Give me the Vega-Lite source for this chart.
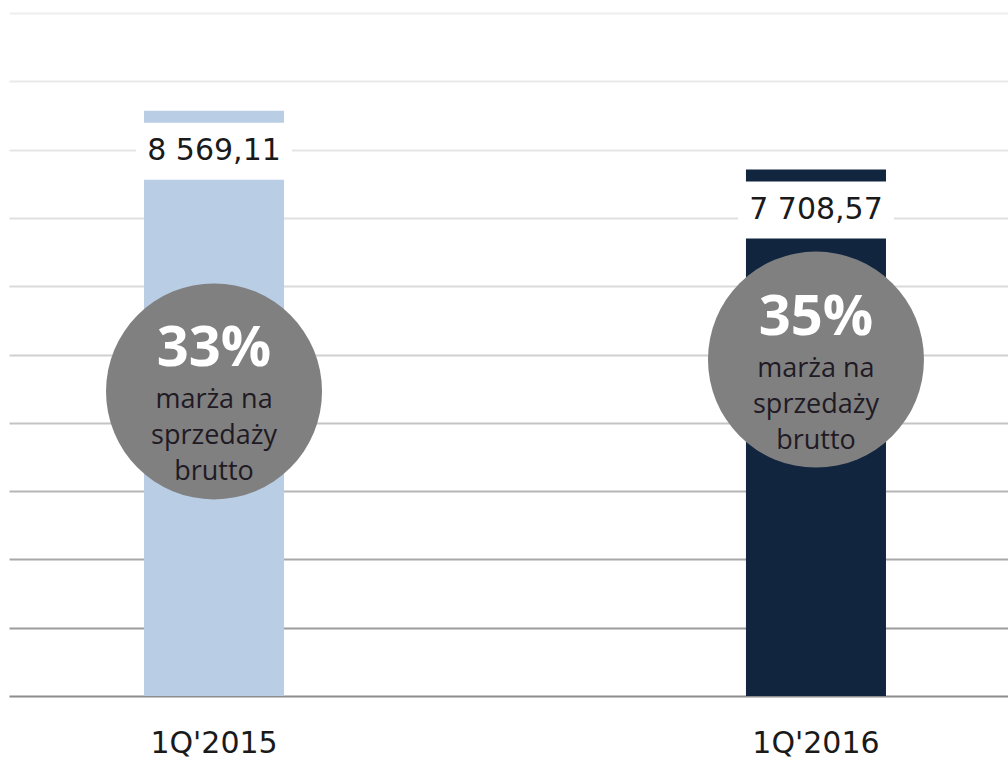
{
  "$schema": "https://vega.github.io/schema/vega-lite/v6.json",
  "width": 999,
  "height": 683,
  "autosize": {"type": "none"},
  "padding": {"left": 9, "top": 13, "right": 0, "bottom": 64},
  "background": "white",
  "config": {
    "view": {"stroke": null},
    "font": "Open Sans",
    "locale": {"number": {"decimal": ",", "thousands": " ", "grouping": [3], "currency": ["", " zł"]}}
  },
  "data": {
    "values": [
      {"q": "1Q'2015", "value": 8569.11, "margin": "33%", "circleY": 4460, "sub": "marża na\nsprzedaży\nbrutto"},
      {"q": "1Q'2016", "value": 7708.57, "margin": "35%", "circleY": 4925, "sub": "marża na\nsprzedaży\nbrutto"}
    ]
  },
  "encoding": {
    "x": {
      "field": "q",
      "type": "nominal",
      "sort": null,
      "title": null,
      "scale": {"range": [0, 1012], "paddingInner": 0.7674, "paddingOuter": 0.2243},
      "axis": {
        "labelAngle": 0,
        "ticks": false,
        "labelPadding": 47,
        "labelBaseline": "middle",
        "labelFontSize": 30,
        "labelFont": "DejaVu Sans",
        "labelColor": "#1a1a1a",
        "domainColor": "#8c8c8c",
        "domainWidth": 2
      }
    }
  },
  "layer": [
    {
      "mark": {"type": "bar"},
      "encoding": {
        "y": {
          "field": "value",
          "type": "quantitative",
          "title": null,
          "scale": {"domain": [0, 10000], "nice": false},
          "axis": {
            "values": [1000, 2000, 3000, 4000, 5000, 6000, 7000, 8000, 9000, 10000],
            "labels": false,
            "ticks": false,
            "domain": false,
            "grid": true,
            "gridWidth": 2,
            "gridColor": {
              "condition": [
                {"test": "datum.value <= 1000", "value": "#9c9c9c"},
                {"test": "datum.value <= 2000", "value": "#a8a8a8"},
                {"test": "datum.value <= 3000", "value": "#b6b6b6"},
                {"test": "datum.value <= 4000", "value": "#c4c4c4"},
                {"test": "datum.value <= 5000", "value": "#d0d0d0"},
                {"test": "datum.value <= 6000", "value": "#dadada"},
                {"test": "datum.value <= 7000", "value": "#e0e0e0"},
                {"test": "datum.value <= 8000", "value": "#e5e5e5"},
                {"test": "datum.value <= 9000", "value": "#e9e9e9"}
              ],
              "value": "#eeeeee"
            }
          }
        },
        "color": {
          "field": "q",
          "type": "nominal",
          "scale": {"domain": ["1Q'2015", "1Q'2016"], "range": ["#b9cde4", "#12253f"]},
          "legend": null
        }
      }
    },
    {
      "mark": {"type": "bar", "width": 156, "color": "white", "yOffset": 12, "y2Offset": 69},
      "encoding": {
        "y": {"field": "value", "type": "quantitative"},
        "y2": {"field": "value"}
      }
    },
    {
      "mark": {"type": "text", "font": "DejaVu Sans", "fontSize": 30, "color": "#1a1a1a", "baseline": "middle", "dy": 40},
      "encoding": {
        "y": {"field": "value", "type": "quantitative"},
        "text": {"field": "value", "type": "quantitative", "format": ",.2f"}
      }
    },
    {
      "mark": {"type": "point", "shape": "circle", "filled": true, "color": "#808080", "opacity": 1, "size": 46656},
      "encoding": {
        "y": {"field": "circleY", "type": "quantitative"}
      }
    },
    {
      "mark": {"type": "text", "font": "Open Sans", "fontWeight": "bold", "fontSize": 56, "color": "white", "baseline": "middle", "dy": -42},
      "encoding": {
        "y": {"field": "circleY", "type": "quantitative"},
        "text": {"field": "margin"}
      }
    },
    {
      "mark": {"type": "text", "font": "Open Sans", "fontSize": 27, "color": "#1f1a24", "baseline": "middle", "lineBreak": "\n", "lineHeight": 36, "dy": 9},
      "encoding": {
        "y": {"field": "circleY", "type": "quantitative"},
        "text": {"field": "sub"}
      }
    }
  ]
}
